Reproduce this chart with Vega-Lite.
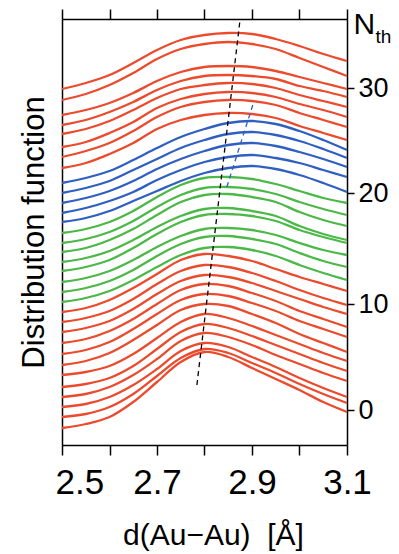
{
"$schema":"https://vega.github.io/schema/vega-lite/v6.json",
"width":285,"height":426,
"autosize":"none",
"padding":{"left":62,"top":19,"right":52,"bottom":109},
"background":"white",
"config":{"view":{"stroke":null},"font":"Liberation Sans","axis":{"grid":false,"titleFontWeight":"normal","titleColor":"black","labelColor":"black"}},
"resolve":{"axis":{"x":"independent","y":"independent"}},
"layer":[
{
"data":{"values":[
{"n":0,"c":"r","x":2.5,"v":-18},{"n":0,"c":"r","x":2.6,"v":-7},{"n":0,"c":"r","x":2.7,"v":28},{"n":0,"c":"r","x":2.75,"v":48},{"n":0,"c":"r","x":2.8,"v":58},{"n":0,"c":"r","x":2.85,"v":53},{"n":0,"c":"r","x":2.9,"v":42},{"n":0,"c":"r","x":2.95,"v":31},{"n":0,"c":"r","x":3.0,"v":20},{"n":0,"c":"r","x":3.05,"v":8},{"n":0,"c":"r","x":3.1,"v":-2},
{"n":1,"c":"r","x":2.5,"v":-7},{"n":1,"c":"r","x":2.6,"v":3},{"n":1,"c":"r","x":2.7,"v":34},{"n":1,"c":"r","x":2.75,"v":52},{"n":1,"c":"r","x":2.8,"v":61},{"n":1,"c":"r","x":2.85,"v":57},{"n":1,"c":"r","x":2.9,"v":47},{"n":1,"c":"r","x":2.95,"v":37},{"n":1,"c":"r","x":3.0,"v":26},{"n":1,"c":"r","x":3.05,"v":16},{"n":1,"c":"r","x":3.1,"v":7},
{"n":2,"c":"r","x":2.5,"v":3},{"n":2,"c":"r","x":2.6,"v":13},{"n":2,"c":"r","x":2.7,"v":41},{"n":2,"c":"r","x":2.75,"v":59},{"n":2,"c":"r","x":2.8,"v":67},{"n":2,"c":"r","x":2.85,"v":63},{"n":2,"c":"r","x":2.9,"v":53},{"n":2,"c":"r","x":2.95,"v":43},{"n":2,"c":"r","x":3.0,"v":32},{"n":2,"c":"r","x":3.05,"v":22},{"n":2,"c":"r","x":3.1,"v":13},
{"n":3,"c":"r","x":2.5,"v":13},{"n":3,"c":"r","x":2.6,"v":23},{"n":3,"c":"r","x":2.7,"v":51},{"n":3,"c":"r","x":2.75,"v":69},{"n":3,"c":"r","x":2.8,"v":77},{"n":3,"c":"r","x":2.85,"v":73},{"n":3,"c":"r","x":2.9,"v":65},{"n":3,"c":"r","x":2.95,"v":55},{"n":3,"c":"r","x":3.0,"v":46},{"n":3,"c":"r","x":3.05,"v":37},{"n":3,"c":"r","x":3.1,"v":29},
{"n":4,"c":"r","x":2.5,"v":23},{"n":4,"c":"r","x":2.6,"v":32},{"n":4,"c":"r","x":2.7,"v":61},{"n":4,"c":"r","x":2.75,"v":78},{"n":4,"c":"r","x":2.8,"v":86},{"n":4,"c":"r","x":2.85,"v":82},{"n":4,"c":"r","x":2.9,"v":74},{"n":4,"c":"r","x":2.95,"v":65},{"n":4,"c":"r","x":3.0,"v":56},{"n":4,"c":"r","x":3.05,"v":47},{"n":4,"c":"r","x":3.1,"v":39},
{"n":5,"c":"r","x":2.5,"v":35},{"n":5,"c":"r","x":2.6,"v":44},{"n":5,"c":"r","x":2.7,"v":72},{"n":5,"c":"r","x":2.75,"v":88},{"n":5,"c":"r","x":2.8,"v":96},{"n":5,"c":"r","x":2.85,"v":92},{"n":5,"c":"r","x":2.9,"v":84},{"n":5,"c":"r","x":2.95,"v":75},{"n":5,"c":"r","x":3.0,"v":66},{"n":5,"c":"r","x":3.05,"v":57},{"n":5,"c":"r","x":3.1,"v":49},
{"n":6,"c":"r","x":2.5,"v":45},{"n":6,"c":"r","x":2.6,"v":57},{"n":6,"c":"r","x":2.7,"v":85},{"n":6,"c":"r","x":2.75,"v":100},{"n":6,"c":"r","x":2.8,"v":106},{"n":6,"c":"r","x":2.85,"v":104},{"n":6,"c":"r","x":2.9,"v":96},{"n":6,"c":"r","x":2.95,"v":87},{"n":6,"c":"r","x":3.0,"v":76},{"n":6,"c":"r","x":3.05,"v":67},{"n":6,"c":"r","x":3.1,"v":58},
{"n":7,"c":"r","x":2.5,"v":56},{"n":7,"c":"r","x":2.6,"v":68},{"n":7,"c":"r","x":2.7,"v":96},{"n":7,"c":"r","x":2.75,"v":110},{"n":7,"c":"r","x":2.8,"v":116},{"n":7,"c":"r","x":2.85,"v":114},{"n":7,"c":"r","x":2.9,"v":107},{"n":7,"c":"r","x":2.95,"v":99},{"n":7,"c":"r","x":3.0,"v":89},{"n":7,"c":"r","x":3.05,"v":81},{"n":7,"c":"r","x":3.1,"v":73},
{"n":8,"c":"r","x":2.5,"v":67},{"n":8,"c":"r","x":2.6,"v":79},{"n":8,"c":"r","x":2.7,"v":106},{"n":8,"c":"r","x":2.75,"v":120},{"n":8,"c":"r","x":2.8,"v":126},{"n":8,"c":"r","x":2.85,"v":124},{"n":8,"c":"r","x":2.9,"v":117},{"n":8,"c":"r","x":2.95,"v":109},{"n":8,"c":"r","x":3.0,"v":99},{"n":8,"c":"r","x":3.05,"v":91},{"n":8,"c":"r","x":3.1,"v":83},
{"n":9,"c":"r","x":2.5,"v":78},{"n":9,"c":"r","x":2.6,"v":89},{"n":9,"c":"r","x":2.7,"v":116},{"n":9,"c":"r","x":2.75,"v":129},{"n":9,"c":"r","x":2.8,"v":135},{"n":9,"c":"r","x":2.85,"v":133},{"n":9,"c":"r","x":2.9,"v":127},{"n":9,"c":"r","x":2.95,"v":119},{"n":9,"c":"r","x":3.0,"v":111},{"n":9,"c":"r","x":3.05,"v":103},{"n":9,"c":"r","x":3.1,"v":96},
{"n":10,"c":"r","x":2.5,"v":88},{"n":10,"c":"r","x":2.6,"v":99},{"n":10,"c":"r","x":2.7,"v":126},{"n":10,"c":"r","x":2.75,"v":139},{"n":10,"c":"r","x":2.8,"v":145},{"n":10,"c":"r","x":2.85,"v":143},{"n":10,"c":"r","x":2.9,"v":137},{"n":10,"c":"r","x":2.95,"v":129},{"n":10,"c":"r","x":3.0,"v":120},{"n":10,"c":"r","x":3.05,"v":112},{"n":10,"c":"r","x":3.1,"v":105},
{"n":11,"c":"r","x":2.5,"v":98},{"n":11,"c":"r","x":2.6,"v":110},{"n":11,"c":"r","x":2.7,"v":136},{"n":11,"c":"r","x":2.75,"v":150},{"n":11,"c":"r","x":2.8,"v":156},{"n":11,"c":"r","x":2.85,"v":154},{"n":11,"c":"r","x":2.9,"v":149},{"n":11,"c":"r","x":2.95,"v":141},{"n":11,"c":"r","x":3.0,"v":133},{"n":11,"c":"r","x":3.05,"v":126},{"n":11,"c":"r","x":3.1,"v":119},
{"n":12,"c":"g","x":2.5,"v":108},{"n":12,"c":"g","x":2.6,"v":119},{"n":12,"c":"g","x":2.7,"v":143},{"n":12,"c":"g","x":2.75,"v":155},{"n":12,"c":"g","x":2.8,"v":162},{"n":12,"c":"g","x":2.85,"v":163},{"n":12,"c":"g","x":2.9,"v":160},{"n":12,"c":"g","x":2.95,"v":154},{"n":12,"c":"g","x":3.0,"v":145},{"n":12,"c":"g","x":3.05,"v":137},{"n":12,"c":"g","x":3.1,"v":130},
{"n":13,"c":"g","x":2.5,"v":118},{"n":13,"c":"g","x":2.6,"v":129},{"n":13,"c":"g","x":2.7,"v":154},{"n":13,"c":"g","x":2.75,"v":166},{"n":13,"c":"g","x":2.8,"v":173},{"n":13,"c":"g","x":2.85,"v":174},{"n":13,"c":"g","x":2.9,"v":171},{"n":13,"c":"g","x":2.95,"v":166},{"n":13,"c":"g","x":3.0,"v":157},{"n":13,"c":"g","x":3.05,"v":149},{"n":13,"c":"g","x":3.1,"v":143},
{"n":14,"c":"g","x":2.5,"v":128},{"n":14,"c":"g","x":2.6,"v":139},{"n":14,"c":"g","x":2.7,"v":163},{"n":14,"c":"g","x":2.75,"v":174},{"n":14,"c":"g","x":2.8,"v":181},{"n":14,"c":"g","x":2.85,"v":182},{"n":14,"c":"g","x":2.9,"v":180},{"n":14,"c":"g","x":2.95,"v":175},{"n":14,"c":"g","x":3.0,"v":167},{"n":14,"c":"g","x":3.05,"v":160},{"n":14,"c":"g","x":3.1,"v":155},
{"n":15,"c":"g","x":2.5,"v":139},{"n":15,"c":"g","x":2.6,"v":150},{"n":15,"c":"g","x":2.7,"v":176},{"n":15,"c":"g","x":2.75,"v":188},{"n":15,"c":"g","x":2.8,"v":195},{"n":15,"c":"g","x":2.85,"v":196},{"n":15,"c":"g","x":2.9,"v":194},{"n":15,"c":"g","x":2.95,"v":189},{"n":15,"c":"g","x":3.0,"v":180},{"n":15,"c":"g","x":3.05,"v":173},{"n":15,"c":"g","x":3.1,"v":167},
{"n":16,"c":"g","x":2.5,"v":148},{"n":16,"c":"g","x":2.6,"v":159},{"n":16,"c":"g","x":2.7,"v":183},{"n":16,"c":"g","x":2.75,"v":194},{"n":16,"c":"g","x":2.8,"v":201},{"n":16,"c":"g","x":2.85,"v":202},{"n":16,"c":"g","x":2.9,"v":199},{"n":16,"c":"g","x":2.95,"v":194},{"n":16,"c":"g","x":3.0,"v":184},{"n":16,"c":"g","x":3.05,"v":176},{"n":16,"c":"g","x":3.1,"v":170},
{"n":17,"c":"g","x":2.5,"v":158},{"n":17,"c":"g","x":2.6,"v":170},{"n":17,"c":"g","x":2.7,"v":195},{"n":17,"c":"g","x":2.75,"v":208},{"n":17,"c":"g","x":2.8,"v":215},{"n":17,"c":"g","x":2.85,"v":216},{"n":17,"c":"g","x":2.9,"v":213},{"n":17,"c":"g","x":2.95,"v":208},{"n":17,"c":"g","x":3.0,"v":198},{"n":17,"c":"g","x":3.05,"v":190},{"n":17,"c":"g","x":3.1,"v":184},
{"n":18,"c":"g","x":2.5,"v":167},{"n":18,"c":"g","x":2.6,"v":178},{"n":18,"c":"g","x":2.7,"v":203},{"n":18,"c":"g","x":2.75,"v":215},{"n":18,"c":"g","x":2.8,"v":222},{"n":18,"c":"g","x":2.85,"v":223},{"n":18,"c":"g","x":2.9,"v":221},{"n":18,"c":"g","x":2.95,"v":216},{"n":18,"c":"g","x":3.0,"v":208},{"n":18,"c":"g","x":3.05,"v":201},{"n":18,"c":"g","x":3.1,"v":195},
{"n":19,"c":"g","x":2.5,"v":177},{"n":19,"c":"g","x":2.6,"v":188},{"n":19,"c":"g","x":2.7,"v":213},{"n":19,"c":"g","x":2.75,"v":225},{"n":19,"c":"g","x":2.8,"v":232},{"n":19,"c":"g","x":2.85,"v":233},{"n":19,"c":"g","x":2.9,"v":231},{"n":19,"c":"g","x":2.95,"v":226},{"n":19,"c":"g","x":3.0,"v":219},{"n":19,"c":"g","x":3.05,"v":212},{"n":19,"c":"g","x":3.1,"v":207},
{"n":20,"c":"b","x":2.5,"v":188},{"n":20,"c":"b","x":2.6,"v":199},{"n":20,"c":"b","x":2.7,"v":219},{"n":20,"c":"b","x":2.75,"v":229},{"n":20,"c":"b","x":2.8,"v":237},{"n":20,"c":"b","x":2.85,"v":242},{"n":20,"c":"b","x":2.9,"v":244},{"n":20,"c":"b","x":2.95,"v":241},{"n":20,"c":"b","x":3.0,"v":235},{"n":20,"c":"b","x":3.05,"v":227},{"n":20,"c":"b","x":3.1,"v":218},
{"n":21,"c":"b","x":2.5,"v":197},{"n":21,"c":"b","x":2.6,"v":209},{"n":21,"c":"b","x":2.7,"v":230},{"n":21,"c":"b","x":2.75,"v":240},{"n":21,"c":"b","x":2.8,"v":248},{"n":21,"c":"b","x":2.85,"v":253},{"n":21,"c":"b","x":2.9,"v":255},{"n":21,"c":"b","x":2.95,"v":252},{"n":21,"c":"b","x":3.0,"v":247},{"n":21,"c":"b","x":3.05,"v":240},{"n":21,"c":"b","x":3.1,"v":233},
{"n":22,"c":"b","x":2.5,"v":207},{"n":22,"c":"b","x":2.6,"v":219},{"n":22,"c":"b","x":2.7,"v":241},{"n":22,"c":"b","x":2.75,"v":251},{"n":22,"c":"b","x":2.8,"v":259},{"n":22,"c":"b","x":2.85,"v":265},{"n":22,"c":"b","x":2.9,"v":267},{"n":22,"c":"b","x":2.95,"v":264},{"n":22,"c":"b","x":3.0,"v":258},{"n":22,"c":"b","x":3.05,"v":251},{"n":22,"c":"b","x":3.1,"v":243},
{"n":23,"c":"b","x":2.5,"v":217},{"n":23,"c":"b","x":2.6,"v":229},{"n":23,"c":"b","x":2.7,"v":251},{"n":23,"c":"b","x":2.75,"v":262},{"n":23,"c":"b","x":2.8,"v":270},{"n":23,"c":"b","x":2.85,"v":276},{"n":23,"c":"b","x":2.9,"v":278},{"n":23,"c":"b","x":2.95,"v":275},{"n":23,"c":"b","x":3.0,"v":269},{"n":23,"c":"b","x":3.05,"v":261},{"n":23,"c":"b","x":3.1,"v":252},
{"n":24,"c":"b","x":2.5,"v":227},{"n":24,"c":"b","x":2.6,"v":239},{"n":24,"c":"b","x":2.7,"v":262},{"n":24,"c":"b","x":2.75,"v":273},{"n":24,"c":"b","x":2.8,"v":281},{"n":24,"c":"b","x":2.85,"v":287},{"n":24,"c":"b","x":2.9,"v":289},{"n":24,"c":"b","x":2.95,"v":286},{"n":24,"c":"b","x":3.0,"v":279},{"n":24,"c":"b","x":3.05,"v":270},{"n":24,"c":"b","x":3.1,"v":260},
{"n":25,"c":"r","x":2.5,"v":242},{"n":25,"c":"r","x":2.6,"v":256},{"n":25,"c":"r","x":2.7,"v":281},{"n":25,"c":"r","x":2.75,"v":290},{"n":25,"c":"r","x":2.8,"v":295},{"n":25,"c":"r","x":2.85,"v":297},{"n":25,"c":"r","x":2.9,"v":296},{"n":25,"c":"r","x":2.95,"v":292},{"n":25,"c":"r","x":3.0,"v":284},{"n":25,"c":"r","x":3.05,"v":277},{"n":25,"c":"r","x":3.1,"v":270},
{"n":26,"c":"r","x":2.5,"v":253},{"n":26,"c":"r","x":2.6,"v":267},{"n":26,"c":"r","x":2.7,"v":293},{"n":26,"c":"r","x":2.75,"v":303},{"n":26,"c":"r","x":2.8,"v":308},{"n":26,"c":"r","x":2.85,"v":310},{"n":26,"c":"r","x":2.9,"v":309},{"n":26,"c":"r","x":2.95,"v":305},{"n":26,"c":"r","x":3.0,"v":297},{"n":26,"c":"r","x":3.05,"v":290},{"n":26,"c":"r","x":3.1,"v":283},
{"n":27,"c":"r","x":2.5,"v":263},{"n":27,"c":"r","x":2.6,"v":277},{"n":27,"c":"r","x":2.7,"v":302},{"n":27,"c":"r","x":2.75,"v":311},{"n":27,"c":"r","x":2.8,"v":316},{"n":27,"c":"r","x":2.85,"v":318},{"n":27,"c":"r","x":2.9,"v":317},{"n":27,"c":"r","x":2.95,"v":313},{"n":27,"c":"r","x":3.0,"v":306},{"n":27,"c":"r","x":3.05,"v":300},{"n":27,"c":"r","x":3.1,"v":293},
{"n":28,"c":"r","x":2.5,"v":276},{"n":28,"c":"r","x":2.6,"v":289},{"n":28,"c":"r","x":2.7,"v":312},{"n":28,"c":"r","x":2.75,"v":321},{"n":28,"c":"r","x":2.8,"v":325},{"n":28,"c":"r","x":2.85,"v":327},{"n":28,"c":"r","x":2.9,"v":326},{"n":28,"c":"r","x":2.95,"v":322},{"n":28,"c":"r","x":3.0,"v":315},{"n":28,"c":"r","x":3.05,"v":309},{"n":28,"c":"r","x":3.1,"v":303},
{"n":29,"c":"r","x":2.5,"v":285},{"n":29,"c":"r","x":2.6,"v":298},{"n":29,"c":"r","x":2.7,"v":320},{"n":29,"c":"r","x":2.75,"v":329},{"n":29,"c":"r","x":2.8,"v":334},{"n":29,"c":"r","x":2.85,"v":335},{"n":29,"c":"r","x":2.9,"v":334},{"n":29,"c":"r","x":2.95,"v":331},{"n":29,"c":"r","x":3.0,"v":324},{"n":29,"c":"r","x":3.05,"v":319},{"n":29,"c":"r","x":3.1,"v":313},
{"n":30,"c":"r","x":2.5,"v":295},{"n":30,"c":"r","x":2.6,"v":307},{"n":30,"c":"r","x":2.7,"v":329},{"n":30,"c":"r","x":2.75,"v":338},{"n":30,"c":"r","x":2.8,"v":343},{"n":30,"c":"r","x":2.85,"v":344},{"n":30,"c":"r","x":2.9,"v":343},{"n":30,"c":"r","x":2.95,"v":339},{"n":30,"c":"r","x":3.0,"v":333},{"n":30,"c":"r","x":3.05,"v":327},{"n":30,"c":"r","x":3.1,"v":321},
{"n":31,"c":"r","x":2.5,"v":310},{"n":31,"c":"r","x":2.6,"v":325},{"n":31,"c":"r","x":2.7,"v":351},{"n":31,"c":"r","x":2.75,"v":361},{"n":31,"c":"r","x":2.8,"v":366},{"n":31,"c":"r","x":2.85,"v":368},{"n":31,"c":"r","x":2.9,"v":366},{"n":31,"c":"r","x":2.95,"v":361},{"n":31,"c":"r","x":3.0,"v":352},{"n":31,"c":"r","x":3.05,"v":343},{"n":31,"c":"r","x":3.1,"v":334},
{"n":32,"c":"r","x":2.5,"v":321},{"n":32,"c":"r","x":2.6,"v":335},{"n":32,"c":"r","x":2.7,"v":360},{"n":32,"c":"r","x":2.75,"v":370},{"n":32,"c":"r","x":2.8,"v":375},{"n":32,"c":"r","x":2.85,"v":377},{"n":32,"c":"r","x":2.9,"v":376},{"n":32,"c":"r","x":2.95,"v":371},{"n":32,"c":"r","x":3.0,"v":364},{"n":32,"c":"r","x":3.05,"v":356},{"n":32,"c":"r","x":3.1,"v":349},
{"n":0,"c":"r","x":2.55,"v":-14},{"n":0,"c":"r","x":2.65,"v":8},
{"n":1,"c":"r","x":2.55,"v":-4},{"n":1,"c":"r","x":2.65,"v":16},
{"n":2,"c":"r","x":2.55,"v":6},{"n":2,"c":"r","x":2.65,"v":25},
{"n":3,"c":"r","x":2.55,"v":16},{"n":3,"c":"r","x":2.65,"v":35},
{"n":4,"c":"r","x":2.55,"v":26},{"n":4,"c":"r","x":2.65,"v":44},
{"n":5,"c":"r","x":2.55,"v":38},{"n":5,"c":"r","x":2.65,"v":56},
{"n":6,"c":"r","x":2.55,"v":49},{"n":6,"c":"r","x":2.65,"v":70},
{"n":7,"c":"r","x":2.55,"v":60},{"n":7,"c":"r","x":2.65,"v":81},
{"n":8,"c":"r","x":2.55,"v":71},{"n":8,"c":"r","x":2.65,"v":91},
{"n":9,"c":"r","x":2.55,"v":82},{"n":9,"c":"r","x":2.65,"v":101},
{"n":10,"c":"r","x":2.55,"v":92},{"n":10,"c":"r","x":2.65,"v":111},
{"n":11,"c":"r","x":2.55,"v":102},{"n":11,"c":"r","x":2.65,"v":122},
{"n":12,"c":"g","x":2.55,"v":112},{"n":12,"c":"g","x":2.65,"v":130},
{"n":13,"c":"g","x":2.55,"v":122},{"n":13,"c":"g","x":2.65,"v":140},
{"n":14,"c":"g","x":2.55,"v":132},{"n":14,"c":"g","x":2.65,"v":150},
{"n":15,"c":"g","x":2.55,"v":143},{"n":15,"c":"g","x":2.65,"v":162},
{"n":16,"c":"g","x":2.55,"v":152},{"n":16,"c":"g","x":2.65,"v":170},
{"n":17,"c":"g","x":2.55,"v":162},{"n":17,"c":"g","x":2.65,"v":181},
{"n":18,"c":"g","x":2.55,"v":171},{"n":18,"c":"g","x":2.65,"v":189},
{"n":19,"c":"g","x":2.55,"v":181},{"n":19,"c":"g","x":2.65,"v":199},
{"n":20,"c":"b","x":2.55,"v":192},{"n":20,"c":"b","x":2.65,"v":209},
{"n":21,"c":"b","x":2.55,"v":202},{"n":21,"c":"b","x":2.65,"v":218},
{"n":22,"c":"b","x":2.55,"v":212},{"n":22,"c":"b","x":2.65,"v":229},
{"n":23,"c":"b","x":2.55,"v":222},{"n":23,"c":"b","x":2.65,"v":240},
{"n":24,"c":"b","x":2.55,"v":232},{"n":24,"c":"b","x":2.65,"v":250},
{"n":25,"c":"r","x":2.55,"v":247},{"n":25,"c":"r","x":2.65,"v":267},
{"n":26,"c":"r","x":2.55,"v":259},{"n":26,"c":"r","x":2.65,"v":279},
{"n":27,"c":"r","x":2.55,"v":268},{"n":27,"c":"r","x":2.65,"v":288},
{"n":28,"c":"r","x":2.55,"v":281},{"n":28,"c":"r","x":2.65,"v":300},
{"n":29,"c":"r","x":2.55,"v":290},{"n":29,"c":"r","x":2.65,"v":308},
{"n":30,"c":"r","x":2.55,"v":300},{"n":30,"c":"r","x":2.65,"v":317},
{"n":31,"c":"r","x":2.55,"v":316},{"n":31,"c":"r","x":2.65,"v":337},
{"n":32,"c":"r","x":2.55,"v":327},{"n":32,"c":"r","x":2.65,"v":347}
]},
"mark":{"type":"line","interpolate":"catmull-rom","strokeWidth":2.3},
"encoding":{
"x":{"field":"x","type":"quantitative","scale":{"domain":[2.5,3.1],"nice":false,"zero":false},
 "axis":{"orient":"bottom","values":[2.5,2.6,2.7,2.8,2.9,3.0,3.1],"format":".1f",
  "labelExpr":"(datum.value==2.5||datum.value==2.7||datum.value==2.9||datum.value==3.1) ? datum.label : ''",
  "labelAlign":{"condition":{"test":"datum.value==2.5","value":"left"},"value":"center"},
  "labelOffset":{"condition":{"test":"datum.value==2.5","value":-7},"value":0},
  "labelFontSize":35,"labelPadding":10,"labelFlush":false,"labelOverlap":false,
  "tickSize":10,"tickWidth":1.5,"tickColor":"black","domainColor":"black","domainWidth":1.5,
  "title":"d(Au−Au)\u00a0 [Å]","titleFontSize":30,"titlePadding":20,"titleX":151}},
"y":{"field":"v","type":"quantitative","scale":{"domain":[-35,391],"nice":false,"zero":false},
 "axis":{"orient":"left","labels":false,"ticks":false,"domainColor":"black","domainWidth":1.5,
  "title":"Distribution function","titleFontSize":31,"titlePadding":12}},
"color":{"field":"c","type":"nominal","scale":{"domain":["r","g","b","k"],"range":["#ec4a2c","#4cb848","#2f5fc0","#000000"]},"legend":null},
"detail":{"field":"n"}
}
},
{
"data":{"values":[
{"n":"d1","c":"k","x":2.784,"v":25},{"n":"d1","c":"k","x":2.875,"v":391},
{"n":"d2","c":"b","x":2.847,"v":223},{"n":"d2","c":"b","x":2.903,"v":307}
]},
"mark":{"type":"line","strokeWidth":1.3,"strokeDash":[5,4]},
"encoding":{
"x":{"field":"x","type":"quantitative",
 "axis":{"orient":"top","values":[2.5,2.6,2.7,2.8,2.9,3.0,3.1],"labels":false,
  "tickSize":10,"tickWidth":1.5,"tickColor":"black","domainColor":"black","domainWidth":1.5,
  "title":"th","titleFontSize":19,"titleAngle":0,"titleAlign":"left","titleBaseline":"alphabetic","titleX":313,"titleY":23}},
"y":{"field":"v","type":"quantitative",
 "axis":{"orient":"right","values":[0,106,217,322],"labelExpr":"format(round(datum.value/10.73),'d')",
  "labelFontSize":27,"labelPadding":4,"tickSize":7,"tickWidth":1.5,"tickColor":"black","domainColor":"black","domainWidth":1.5,
  "title":"N","titleFontSize":30,"titleAngle":0,"titleAlign":"left","titleBaseline":"alphabetic","titleX":6,"titleY":14}},
"color":{"field":"c","type":"nominal","legend":null},
"detail":{"field":"n"}
}
}
]
}
